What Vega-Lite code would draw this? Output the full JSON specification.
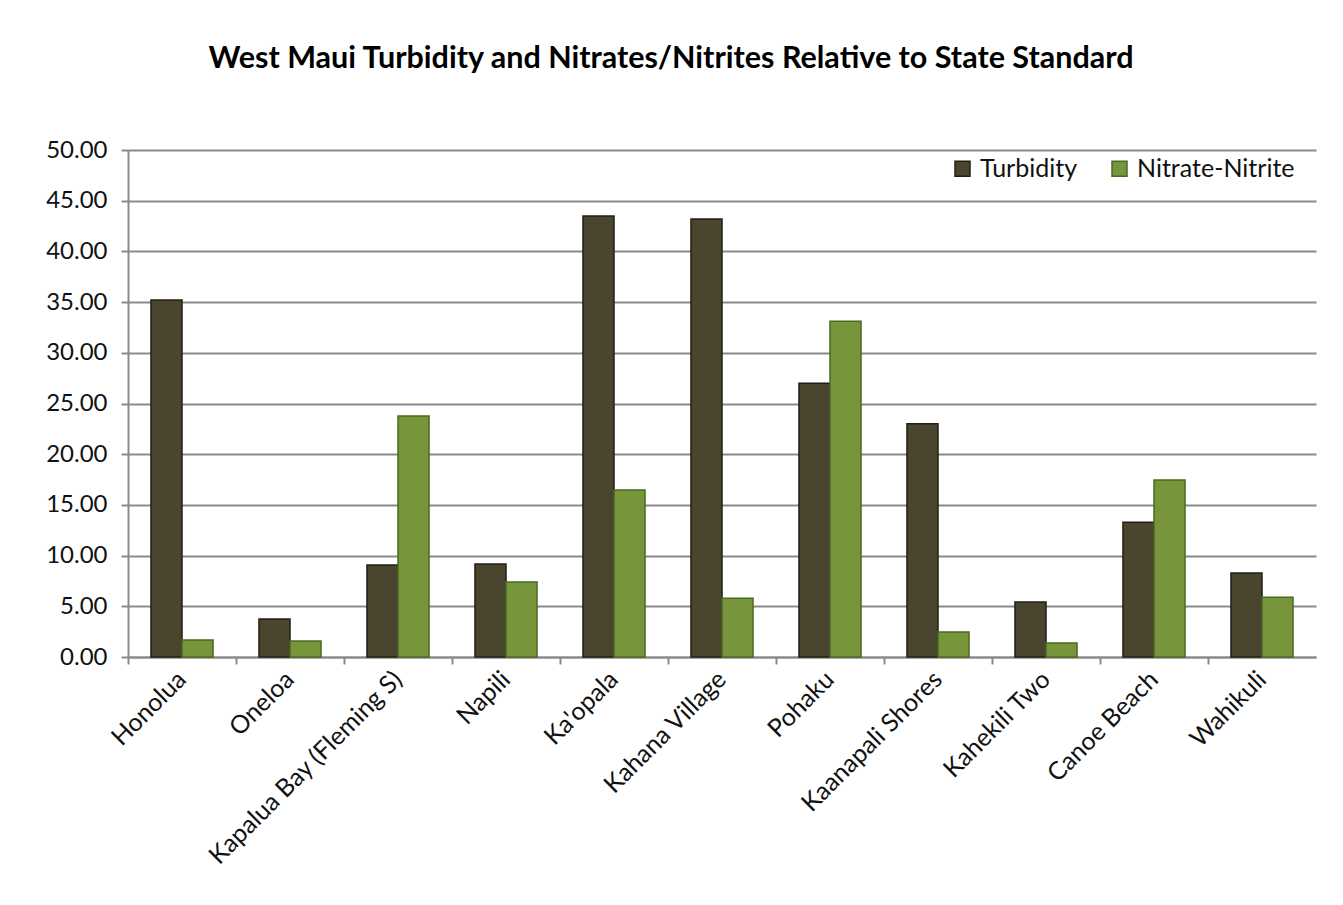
{
  "$schema": "https://vega.github.io/schema/vega-lite/v6.json",
  "width": 1188,
  "height": 507,
  "autosize": {"type": "none"},
  "padding": {"left": 128, "top": 150, "right": 27, "bottom": 248},
  "background": "white",
  "title": {
    "text": "West Maui Turbidity and Nitrates/Nitrites Relative to State Standard",
    "font": "Lato",
    "fontSize": 30.5,
    "fontWeight": "bold",
    "color": "#000000",
    "anchor": "middle",
    "frame": "group",
    "baseline": "alphabetic",
    "dx": -51,
    "dy": 61,
    "offset": 10
  },
  "config": {
    "font": "Lato",
    "view": {"stroke": null},
    "axis": {"labelFont": "Lato", "labelColor": "#111111"}
  },
  "data": {
    "values": [
      {"site": "Honolua", "measure": "Turbidity", "value": 35.2},
      {"site": "Honolua", "measure": "Nitrate-Nitrite", "value": 1.68},
      {"site": "Oneloa", "measure": "Turbidity", "value": 3.75},
      {"site": "Oneloa", "measure": "Nitrate-Nitrite", "value": 1.58},
      {"site": "Kapalua Bay (Fleming S)", "measure": "Turbidity", "value": 9.07},
      {"site": "Kapalua Bay (Fleming S)", "measure": "Nitrate-Nitrite", "value": 23.77},
      {"site": "Napili", "measure": "Turbidity", "value": 9.17},
      {"site": "Napili", "measure": "Nitrate-Nitrite", "value": 7.4},
      {"site": "Ka'opala", "measure": "Turbidity", "value": 43.5},
      {"site": "Ka'opala", "measure": "Nitrate-Nitrite", "value": 16.47},
      {"site": "Kahana Village", "measure": "Turbidity", "value": 43.2},
      {"site": "Kahana Village", "measure": "Nitrate-Nitrite", "value": 5.8},
      {"site": "Pohaku", "measure": "Turbidity", "value": 27.0},
      {"site": "Pohaku", "measure": "Nitrate-Nitrite", "value": 33.1},
      {"site": "Kaanapali Shores", "measure": "Turbidity", "value": 23.0},
      {"site": "Kaanapali Shores", "measure": "Nitrate-Nitrite", "value": 2.47},
      {"site": "Kahekili Two", "measure": "Turbidity", "value": 5.42},
      {"site": "Kahekili Two", "measure": "Nitrate-Nitrite", "value": 1.38},
      {"site": "Canoe Beach", "measure": "Turbidity", "value": 13.3},
      {"site": "Canoe Beach", "measure": "Nitrate-Nitrite", "value": 17.46},
      {"site": "Wahikuli", "measure": "Turbidity", "value": 8.28},
      {"site": "Wahikuli", "measure": "Nitrate-Nitrite", "value": 5.9}
    ]
  },
  "layer": [
    {
      "mark": {"type": "bar", "strokeWidth": 1.5},
      "encoding": {
        "x": {
          "field": "site",
          "type": "nominal",
          "sort": null,
          "scale": {"paddingInner": 0, "paddingOuter": 0},
          "axis": {
            "title": null,
            "orient": "bottom",
            "labelAngle": -45,
            "labelAlign": "right",
            "labelBaseline": "middle",
            "labelFontSize": 25,
            "labelPadding": 18,
            "labelLimit": 400,
            "ticks": false,
            "domain": false
          }
        },
        "xOffset": {
          "field": "measure",
          "type": "nominal",
          "sort": ["Turbidity", "Nitrate-Nitrite"],
          "scale": {"paddingOuter": 0.74, "paddingInner": 0}
        },
        "y": {
          "field": "value",
          "type": "quantitative",
          "scale": {"domain": [0, 50], "nice": false},
          "axis": {
            "title": null,
            "values": [0, 5, 10, 15, 20, 25, 30, 35, 40, 45, 50],
            "format": ".2f",
            "labelFontSize": 24,
            "labelPadding": 14,
            "grid": true,
            "gridColor": "#8a8a8a",
            "gridWidth": 2,
            "domainColor": "#8a8a8a",
            "domainWidth": 2,
            "tickColor": "#8a8a8a",
            "tickWidth": 2,
            "tickSize": 7
          }
        },
        "color": {
          "field": "measure",
          "type": "nominal",
          "sort": ["Turbidity", "Nitrate-Nitrite"],
          "scale": {"domain": ["Turbidity", "Nitrate-Nitrite"], "range": ["#4a452e", "#77963b"]},
          "legend": {
            "title": null,
            "orient": "none",
            "legendX": 822,
            "legendY": 6,
            "direction": "horizontal",
            "symbolType": "square",
            "symbolSize": 225,
            "symbolStrokeWidth": 1.5,
            "labelFontSize": 25,
            "labelColor": "#111111",
            "columnPadding": 29,
            "labelOffset": 5
          }
        },
        "stroke": {
          "field": "measure",
          "type": "nominal",
          "scale": {"domain": ["Turbidity", "Nitrate-Nitrite"], "range": ["#231f14", "#4c6a22"]},
          "legend": null
        }
      }
    },
    {
      "mark": {"type": "bar", "opacity": 0},
      "encoding": {
        "x": {
          "field": "site",
          "type": "nominal",
          "sort": null,
          "axis": {
            "title": null,
            "orient": "bottom",
            "labels": false,
            "bandPosition": 0,
            "ticks": true,
            "tickSize": 7,
            "tickWidth": 2,
            "tickColor": "#8a8a8a",
            "domainColor": "#8a8a8a",
            "domainWidth": 2,
            "grid": false
          }
        },
        "y": {"field": "value", "type": "quantitative"}
      }
    }
  ],
  "resolve": {"axis": {"x": "independent"}}
}
